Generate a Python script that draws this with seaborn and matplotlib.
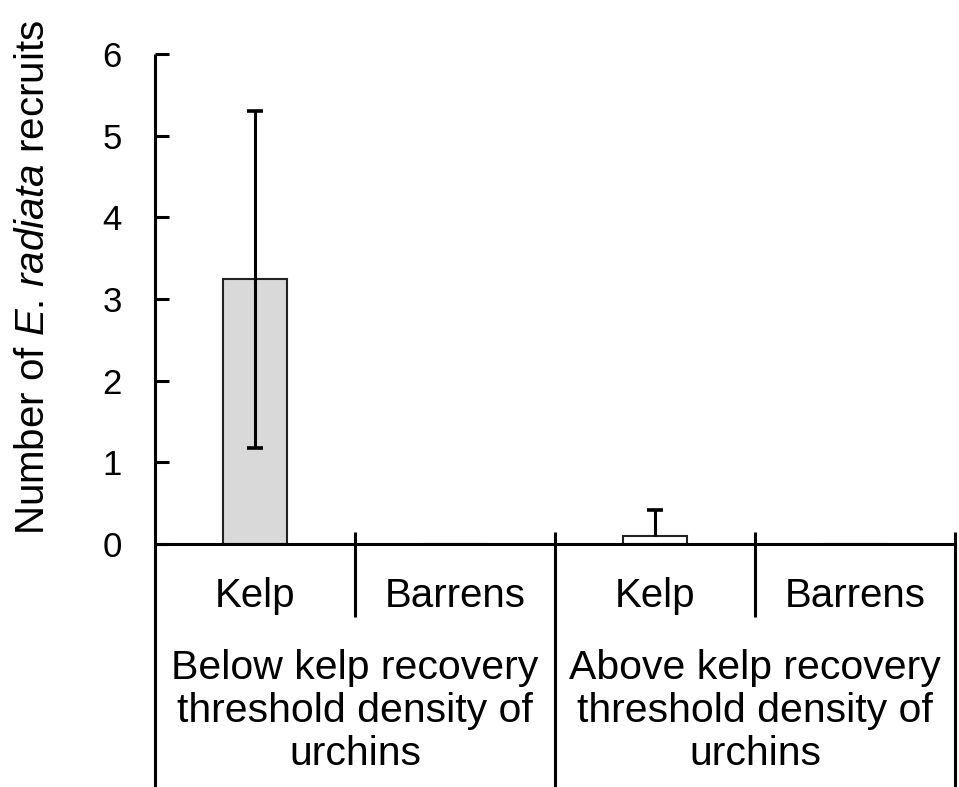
import matplotlib
matplotlib.use("Agg")
import matplotlib.pyplot as plt
import matplotlib.transforms as mtransforms
import seaborn as sns
import pandas as pd
import numpy as np

# ---- data ----
positions = ["p0", "p1", "p2", "p3"]
habitat = ["Kelp", "Barrens", "Kelp", "Barrens"]
groups = ["Below kelp recovery\nthreshold density of\nurchins",
          "Above kelp recovery\nthreshold density of\nurchins"]
mean_recruits = [3.25, 0.0, 0.1, 0.0]
err_lower = [2.07, 0.0, 0.0, 0.0]
err_upper = [2.05, 0.0, 0.32, 0.0]
bar_colors = ["#d9d9d9", "#ffffff", "#ffffff", "#ffffff"]
yticks = [0, 1, 2, 3, 4, 5, 6]

sns.set_theme(style="white")
plt.rcParams["font.family"] = ["Liberation Sans", "DejaVu Sans"]
plt.rcParams["mathtext.fontset"] = "custom"
plt.rcParams["mathtext.rm"] = "Liberation Sans"
plt.rcParams["mathtext.it"] = "Liberation Sans:italic"

df = pd.DataFrame({"pos": positions, "mean": mean_recruits})

fig = plt.figure(figsize=(9.59, 7.87), dpi=100)
ax = fig.add_axes([155 / 959, 1 - 544 / 787, 800 / 959, 490 / 787])

sns.barplot(data=df, x="pos", y="mean", hue="pos", palette=bar_colors,
            order=positions, width=0.32, edgecolor="#222222", linewidth=1.5,
            legend=False, ax=ax)

# error bars (only the parts that exist)
xs = np.arange(len(positions))
m = np.array(mean_recruits)
lo = np.array(err_lower)
up = np.array(err_upper)
has = (lo + up) > 0
ax.vlines(xs[has], (m - lo)[has], (m + up)[has], color="black", lw=2.2,
          zorder=5)
ax.plot(xs[up > 0], (m + up)[up > 0], ls="none", marker="_", ms=12,
        mew=2.6, color="black", zorder=6)
ax.plot(xs[lo > 0], (m - lo)[lo > 0], ls="none", marker="_", ms=12,
        mew=2.6, color="black", zorder=6)

ax.set_xlim(-0.5, 3.5)
ax.set_ylim(0, 6)
ax.set_yticks(yticks)
ax.set_yticklabels([str(t) for t in yticks], fontsize=25)
ax.tick_params(axis="y", direction="in", length=10, width=2.2, pad=24,
               colors="black", left=True)
ax.set_xticks([])
ax.set_xlabel("")
ax.set_ylabel(r"Number of $\mathit{E}$. $\mathit{radiata}$ recruits",
              fontsize=29, color="black")
ax.yaxis.set_label_coords((52 - 155) / 800, (544 - 277) / 490)

for s in ["top", "right", "left"]:
    ax.spines[s].set_visible(False)
ax.spines["bottom"].set_linewidth(2.2)
ax.spines["bottom"].set_color("black")

trans = mtransforms.blended_transform_factory(ax.transData, ax.transAxes)
bottom_y = -(787 - 544) / 490 - 0.01
# left axis line extended to bottom
ax.plot([-0.5, -0.5], [1.0, bottom_y], transform=trans, color="black",
        lw=2.2, clip_on=False, solid_capstyle="butt")
# separators
for xpos, full in [(0.5, False), (1.5, True), (2.5, False), (3.5, True)]:
    y_end = bottom_y if full else -(617 - 544) / 490
    ax.plot([xpos, xpos], [12 / 490, y_end], transform=trans, color="black",
            lw=2.2, clip_on=False, solid_capstyle="butt")

for i, lab in enumerate(habitat):
    ax.text(i, -(596 - 544) / 490, lab, transform=trans, ha="center",
            va="center", fontsize=29, color="black")
for gi, g in enumerate(groups):
    ax.text(0.5 + 2 * gi, -(711 - 544) / 490, g, transform=trans,
            ha="center", va="center", fontsize=29.5, color="black",
            linespacing=1.16)

fig.savefig("out.png", dpi=100)
